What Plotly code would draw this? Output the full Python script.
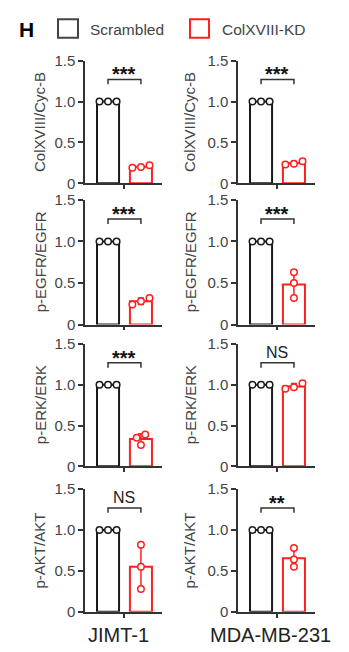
import numpy as np
import plotly.graph_objects as go

W, H = 349, 652
FONT = "Liberation Sans, Arial, sans-serif"

# ---------------- data ----------------
cell_lines = ["JIMT-1", "MDA-MB-231"]
groups = ["Scrambled", "ColXVIII-KD"]
y_titles = ["ColXVIII/Cyc-B", "p-EGFR/EGFR", "p-ERK/ERK", "p-AKT/AKT"]
tick_vals = [0, 0.5, 1.0, 1.5]
tick_text = ["0", "0.5", "1.0", "1.5"]

scr_colxviii_jimt = [1.0, 1.0, 1.0]
kd_colxviii_jimt = [0.19, 0.22, 0.20]
scr_colxviii_mda = [1.0, 1.0, 1.0]
kd_colxviii_mda = [0.23, 0.27, 0.24]

scr_egfr_jimt = [1.0, 1.0, 1.0]
kd_egfr_jimt = [0.32, 0.28, 0.24]
scr_egfr_mda = [1.0, 1.0, 1.0]
kd_egfr_mda = [0.63, 0.50, 0.32]

scr_erk_jimt = [1.0, 1.0, 1.0]
kd_erk_jimt = [0.39, 0.35, 0.26]
scr_erk_mda = [1.0, 1.0, 1.0]
kd_erk_mda = [1.02, 0.97, 0.95]

scr_akt_jimt = [1.0, 1.0, 1.0]
kd_akt_jimt = [0.82, 0.55, 0.28]
scr_akt_mda = [1.0, 1.0, 1.0]
kd_akt_mda = [0.78, 0.64, 0.55]

significance = [["***", "***"], ["***", "***"], ["***", "NS"], ["NS", "**"]]

panels = [
    [(scr_colxviii_jimt, kd_colxviii_jimt), (scr_colxviii_mda, kd_colxviii_mda)],
    [(scr_egfr_jimt, kd_egfr_jimt), (scr_egfr_mda, kd_egfr_mda)],
    [(scr_erk_jimt, kd_erk_jimt), (scr_erk_mda, kd_erk_mda)],
    [(scr_akt_jimt, kd_akt_jimt), (scr_akt_mda, kd_akt_mda)],
]

# ---------------- layout / style ----------------
BLACK = "#1a1a1a"
RED = "#ff1f1f"
AXIS = "#333333"
TXT = "#444444"
row_px = [(53, 179), (196, 324), (344, 469.5), (493, 619)]
col_px = [(85, 162), (238, 315)]
ytitle_x = [40, 190]
xlabel_x = [118.5, 270]
BAR_W = 0.67
SPREAD = 0.26
BR_TOP, BR_LEG = 1.27, 1.21


def px2x(p):
    return p / W


def px2y(p):
    return 1 - p / H


def offsets(vals, thr=0.08):
    order = np.argsort(vals)
    sv = np.asarray(vals)[order]
    clusters, cur = [], [order[0]]
    for i in range(1, len(sv)):
        if sv[i] - sv[i - 1] < thr:
            cur.append(order[i])
        else:
            clusters.append(cur)
            cur = [order[i]]
    clusters.append(cur)
    off = np.zeros(len(vals))
    for c in clusters:
        n = len(c)
        for j, idx in enumerate(c):
            off[idx] = (j - (n - 1) / 2) * SPREAD
    return off


fig = go.Figure()
annotations = []
shapes = []
layout_axes = {}

for r in range(4):
    for c in range(2):
        k = r * 2 + c + 1
        xa = "x" if k == 1 else f"x{k}"
        ya = "y" if k == 1 else f"y{k}"
        scr, kd = panels[r][c]
        for gi, (vals, col) in enumerate([(scr, BLACK), (kd, RED)]):
            m = float(np.mean(vals))
            sd = float(np.std(vals, ddof=1))
            fig.add_trace(go.Bar(
                x=[gi], y=[m], width=BAR_W, xaxis=xa, yaxis=ya,
                marker=dict(color="white", line=dict(color=col, width=2)),
                error_y=dict(type="data", array=[sd], color=col, thickness=1.5, width=3,
                             visible=sd > 0),
                showlegend=False, hoverinfo="skip"))
        for gi, (vals, col) in enumerate([(scr, BLACK), (kd, RED)]):
            off = offsets(vals)
            fig.add_trace(go.Scatter(
                x=[gi + o for o in off], y=vals, mode="markers", xaxis=xa, yaxis=ya,
                marker=dict(symbol="circle", size=6.5, color="white",
                            line=dict(color=col, width=1.5)),
                showlegend=False, hoverinfo="skip", cliponaxis=False))
        # bracket
        fig.add_trace(go.Scatter(
            x=[0, 0, 1, 1], y=[BR_LEG, BR_TOP, BR_TOP, BR_LEG], mode="lines",
            xaxis=xa, yaxis=ya, line=dict(color=AXIS, width=1.5),
            showlegend=False, hoverinfo="skip", cliponaxis=False))
        lab = significance[r][c]
        if lab == "NS":
            annotations.append(dict(x=0.5, y=BR_TOP, xref=xa, yref=ya, text="NS",
                                    showarrow=False, yanchor="bottom", yshift=0,
                                    font=dict(family=FONT, size=16, color="#222")))
        else:
            annotations.append(dict(x=0.5, y=BR_TOP, xref=xa, yref=ya, text=f"<b>{lab}</b>",
                                    showarrow=False, yanchor="bottom", yshift=-8,
                                    font=dict(family=FONT, size=20, color="#111")))
        top, bot = row_px[r]
        x0, x1 = col_px[c]
        layout_axes["xaxis" if k == 1 else f"xaxis{k}"] = dict(
            domain=[px2x(x0), px2x(x1)], range=[-0.70, 1.64], anchor=ya,
            showline=True, linecolor=AXIS, linewidth=1.5,
            ticks="outside", tickvals=[0.5], ticktext=[""], ticklen=4, tickwidth=1.5,
            tickcolor=AXIS, showgrid=False, zeroline=False, fixedrange=True)
        layout_axes["yaxis" if k == 1 else f"yaxis{k}"] = dict(
            domain=[px2y(bot), px2y(top)], range=[0, 1.5], anchor=xa,
            showline=True, linecolor=AXIS, linewidth=1.5,
            ticks="outside", tickvals=tick_vals, ticktext=tick_text, ticklen=5,
            tickwidth=1.5, tickcolor=AXIS, showgrid=False, zeroline=False,
            tickfont=dict(family=FONT, size=15, color=TXT), fixedrange=True)
        annotations.append(dict(x=px2x(ytitle_x[c]), y=px2y((top + bot) / 2),
                                xref="paper", yref="paper", text=y_titles[r],
                                textangle=-90, showarrow=False,
                                xanchor="center", yanchor="middle",
                                font=dict(family=FONT, size=15, color=TXT)))

for c in range(2):
    annotations.append(dict(x=px2x(xlabel_x[c]), y=px2y(643), xref="paper", yref="paper",
                            text=cell_lines[c], showarrow=False, xanchor="center",
                            yanchor="middle", font=dict(family=FONT, size=20, color="#222")))

# panel letter and legend
annotations.append(dict(x=px2x(26.5), y=px2y(21), xref="paper", yref="paper",
                        text="<b>H</b>", showarrow=False, xanchor="center", yanchor="middle",
                        font=dict(family=FONT, size=21, color="#000")))
legend_items = [(58, 78, "#444444", 88), (190, 209, RED, 220)]
for (lx0, lx1, lc, tx), g in zip(legend_items, groups):
    shapes.append(dict(type="rect", xref="paper", yref="paper",
                       x0=px2x(lx0), x1=px2x(lx1), y0=px2y(29.5), y1=px2y(10.5),
                       line=dict(color=lc, width=2), fillcolor="white"))
    annotations.append(dict(x=px2x(tx), y=px2y(21), xref="paper", yref="paper",
                            text=g, showarrow=False, xanchor="left", yanchor="middle",
                            font=dict(family=FONT, size=15.5, color=TXT)))

fig.update_layout(
    width=W, height=H, margin=dict(l=0, r=0, t=0, b=0),
    paper_bgcolor="white", plot_bgcolor="white", barmode="overlay",
    showlegend=False, annotations=annotations, shapes=shapes, **layout_axes)

fig.write_html("out.html", config={"displayModeBar": False},
               post_script="document.body.style.margin='0';document.body.style.overflow='hidden';")
